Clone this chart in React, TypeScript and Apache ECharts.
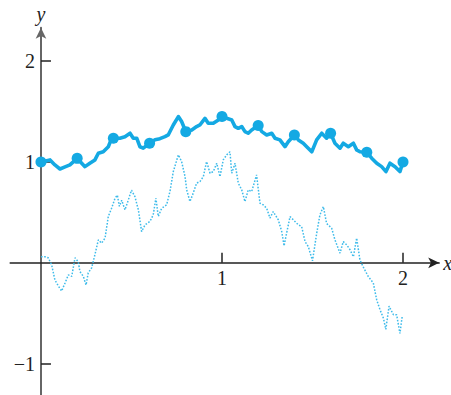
import React, { useEffect, useRef } from "react";
import * as echarts from "echarts";

// Smooth (thick) path: [x, y]
const driftPath: [number, number][] = [
  [0, 1.0], [0.05, 1.02], [0.077, 0.97], [0.105, 0.93], [0.133, 0.95], [0.16, 0.97], [0.2, 1.035],
  [0.225, 0.987], [0.243, 0.953], [0.27, 0.987], [0.298, 1.02], [0.317, 1.086], [0.344, 1.1],
  [0.372, 1.15], [0.39, 1.23], [0.4, 1.235], [0.436, 1.235], [0.464, 1.25], [0.492, 1.284],
  [0.51, 1.235], [0.529, 1.235], [0.547, 1.15], [0.565, 1.136], [0.6, 1.185], [0.63, 1.22],
  [0.657, 1.23], [0.685, 1.25], [0.703, 1.267], [0.731, 1.366], [0.759, 1.449], [0.777, 1.4],
  [0.8, 1.3], [0.833, 1.317], [0.86, 1.35], [0.878, 1.366], [0.906, 1.432], [0.924, 1.383],
  [0.952, 1.383], [0.98, 1.416], [1.0, 1.45], [1.026, 1.432], [1.054, 1.416], [1.072, 1.35],
  [1.09, 1.333], [1.109, 1.35], [1.127, 1.3], [1.145, 1.284], [1.164, 1.317], [1.2, 1.36],
  [1.22, 1.3], [1.247, 1.267], [1.275, 1.284], [1.293, 1.235], [1.32, 1.218], [1.348, 1.151],
  [1.366, 1.2], [1.4, 1.267], [1.422, 1.218], [1.449, 1.185], [1.468, 1.151], [1.496, 1.1],
  [1.523, 1.218], [1.551, 1.284], [1.578, 1.235], [1.6, 1.284], [1.624, 1.185], [1.652, 1.136],
  [1.67, 1.185], [1.698, 1.151], [1.726, 1.185], [1.744, 1.119], [1.762, 1.1], [1.8, 1.096],
  [1.827, 1.037], [1.855, 0.987], [1.882, 0.953], [1.906, 0.904], [1.928, 0.987], [1.956, 0.953],
  [1.983, 0.904], [2.0, 1.0],
];

// Sample points (dots)
const dotX = [0, 0.2, 0.4, 0.6, 0.8, 1.0, 1.2, 1.4, 1.6, 1.8, 2.0];
const dotY = [1.0, 1.035, 1.235, 1.185, 1.3, 1.45, 1.36, 1.267, 1.284, 1.096, 1.0];

// Dotted (noisy) path: [x, y]
const noisyPath: [number, number][] = [
  [0, 0.06], [0.022, 0.06], [0.04, 0.05], [0.059, -0.02], [0.077, -0.17], [0.096, -0.23],
  [0.114, -0.28], [0.133, -0.2], [0.151, -0.12], [0.17, -0.135], [0.188, 0.05], [0.206, 0.01],
  [0.215, -0.086], [0.234, -0.135], [0.249, -0.22], [0.261, -0.1], [0.28, -0.05], [0.298, 0.08],
  [0.317, 0.228], [0.335, 0.195], [0.354, 0.245], [0.372, 0.46], [0.39, 0.54], [0.409, 0.64],
  [0.422, 0.67], [0.433, 0.56], [0.446, 0.62], [0.464, 0.525], [0.482, 0.62], [0.5, 0.72],
  [0.519, 0.656], [0.538, 0.525], [0.556, 0.31], [0.575, 0.376], [0.602, 0.41], [0.62, 0.475],
  [0.635, 0.64], [0.648, 0.46], [0.667, 0.54], [0.694, 0.574], [0.713, 0.71], [0.731, 0.904],
  [0.759, 1.07], [0.777, 1.003], [0.796, 0.854], [0.805, 0.723], [0.823, 0.607], [0.841, 0.69],
  [0.86, 0.79], [0.878, 0.805], [0.897, 0.854], [0.915, 1.003], [0.934, 0.888], [0.952, 0.904],
  [0.971, 0.987], [0.989, 0.854], [1.007, 1.02], [1.026, 1.07], [1.044, 1.1], [1.054, 0.888],
  [1.072, 0.987], [1.09, 0.79], [1.109, 0.723], [1.127, 0.607], [1.145, 0.723], [1.164, 0.706],
  [1.191, 0.871], [1.21, 0.59], [1.228, 0.574], [1.247, 0.54], [1.265, 0.443], [1.283, 0.508],
  [1.311, 0.426], [1.33, 0.31], [1.343, 0.168], [1.357, 0.294], [1.376, 0.458], [1.394, 0.426],
  [1.422, 0.376], [1.44, 0.36], [1.459, 0.21], [1.477, 0.16], [1.5, 0.02], [1.523, 0.29],
  [1.541, 0.475], [1.56, 0.557], [1.578, 0.39], [1.606, 0.343], [1.624, 0.228], [1.652, 0.096],
  [1.67, 0.21], [1.689, 0.178], [1.707, 0.13], [1.726, 0.06], [1.744, 0.245], [1.762, 0.03],
  [1.78, -0.04], [1.808, -0.135], [1.836, -0.2], [1.855, -0.37], [1.873, -0.465], [1.892, -0.55],
  [1.905, -0.66], [1.923, -0.43], [1.947, -0.515], [1.965, -0.515], [1.983, -0.7], [1.996, -0.525],
];

const xTicks = [1, 2];
const yTicks = [-1, 1, 2];

const BLUE = "#14a9e3";
const LIGHT_BLUE = "#3dbbea";
const SERIF = "'Liberation Serif', 'DejaVu Serif', serif";

// layout
const W = 451, H = 395;
const GRID = { left: 10.2, right: 11.8, top: 27.7, bottom: 0 };
const X_MIN = -0.17, X_MAX = 2.2;
const Y_MIN = -1.31, Y_MAX = 2.33;

export default function App() {
  const ref = useRef<HTMLDivElement>(null);

  useEffect(() => {
    if (!ref.current) return;
    const chart = echarts.init(ref.current, undefined, { renderer: "svg" });
    const gw = W - GRID.left - GRID.right;
    const gh = H - GRID.top - GRID.bottom;
    // move axes onto the zero lines, labels included
    const yAxisOffset = -((0 - X_MIN) / (X_MAX - X_MIN)) * gw;
    const xAxisOffset = -((0 - Y_MIN) / (Y_MAX - Y_MIN)) * gh;
    chart.setOption({
      animation: false,
      backgroundColor: "#ffffff",
      grid: { ...GRID, containLabel: false, outerBoundsMode: "none" },
      xAxis: {
        type: "value",
        min: X_MIN,
        max: X_MAX,
        position: "bottom",
        offset: xAxisOffset,
        name: "x",
        nameLocation: "end",
        nameGap: 4,
        nameTextStyle: { fontFamily: SERIF, fontStyle: "italic", fontSize: 20, color: "#222", verticalAlign: "middle" },
        axisLine: { onZero: false, lineStyle: { color: "#222", width: 1.5 }, symbol: ["none", "arrow"], symbolSize: [8, 11] },
        axisTick: { show: true, inside: true, length: 10, customValues: xTicks, lineStyle: { color: "#222", width: 1.5 } },
        axisLabel: { show: true, customValues: xTicks, margin: 5, fontFamily: SERIF, fontSize: 20, color: "#222" },
        splitLine: { show: false },
      },
      yAxis: {
        type: "value",
        min: Y_MIN,
        max: Y_MAX,
        position: "left",
        offset: yAxisOffset,
        name: "y",
        nameLocation: "end",
        nameGap: 4,
        nameTextStyle: { fontFamily: SERIF, fontStyle: "italic", fontSize: 20, color: "#222", align: "center" },
        axisLine: { onZero: false, lineStyle: { color: "#666", width: 2 }, symbol: ["none", "arrow"], symbolSize: [8, 11] },
        axisTick: { show: true, inside: true, length: 10, customValues: yTicks, lineStyle: { color: "#222", width: 1.5 } },
        axisLabel: {
          show: true,
          customValues: yTicks,
          margin: 6,
          fontFamily: SERIF,
          fontSize: 20,
          color: "#222",
          formatter: (v: number) => String(v).replace("-", "\u2212"),
        },
        splitLine: { show: false },
      },
      series: [
        {
          type: "line",
          data: noisyPath,
          showSymbol: false,
          lineStyle: { color: LIGHT_BLUE, width: 1.5, type: [1.6, 1.6] },
          z: 2,
        },
        {
          type: "line",
          data: driftPath,
          showSymbol: false,
          lineStyle: { color: BLUE, width: 3.6, join: "round" },
          z: 3,
        },
        {
          type: "scatter",
          data: dotX.map((x, i) => [x, dotY[i]]),
          symbol: "circle",
          symbolSize: 11,
          itemStyle: { color: BLUE, opacity: 1 },
          z: 4,
        },
      ],
    });
    return () => chart.dispose();
  }, []);

  return (
    <div
      ref={ref}
      style={{ position: "fixed", left: 0, top: 0, width: W, height: H }}
    />
  );
}
